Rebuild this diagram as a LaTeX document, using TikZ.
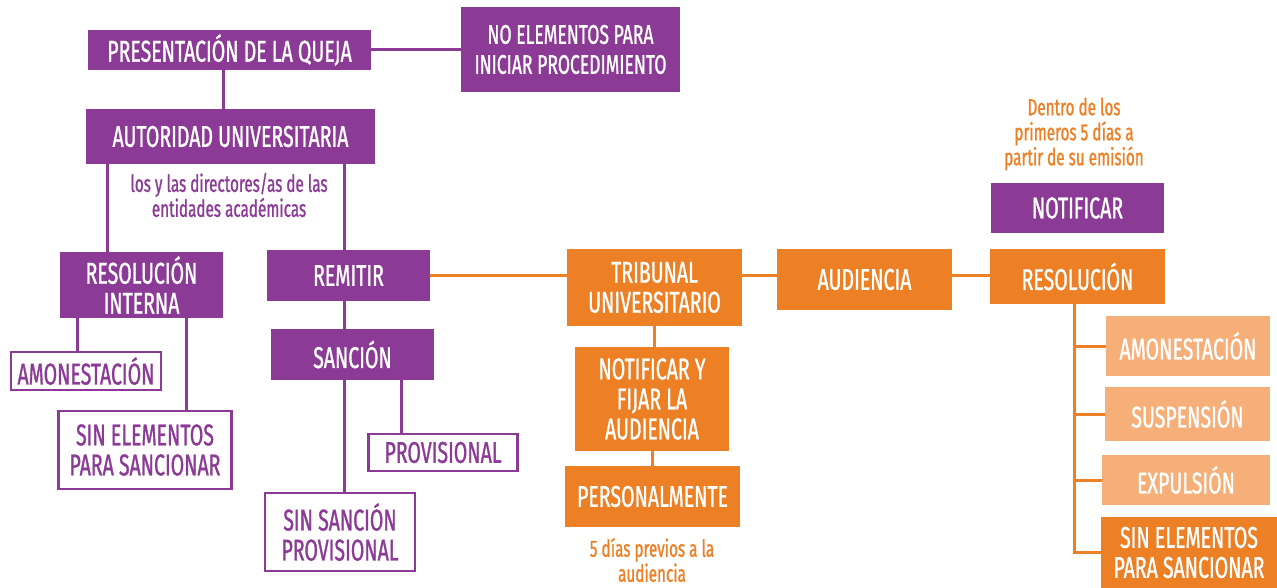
\documentclass[tikz,border=0pt]{standalone}
\usepackage{fontspec}
\setmainfont[FakeStretch=0.65, FakeBold=1]{Fira Sans}
\definecolor{morado}{RGB}{139,59,150}
\definecolor{naranja}{RGB}{237,128,37}
\definecolor{durazno}{RGB}{246,175,120}

\begin{document}
\begin{tikzpicture}[x=1pt,y=-1pt,
  caja/.style={inner sep=0pt, align=center, font=\fontsize{30}{30}\selectfont},
  lila/.style={caja, fill=morado, text=white},
  lilaborde/.style={caja, draw=morado, line width=2.5pt, fill=white, text=morado},
  nar/.style={caja, fill=naranja, text=white},
  narclaro/.style={caja, fill=durazno, text=white},
  nota/.style={align=center, inner sep=0pt, font=\fontsize{23.5}{25}\selectfont},
  lineal/.style={draw=morado, line width=3pt},
  linean/.style={draw=naranja, line width=3pt}]

\useasboundingbox (0,0) rectangle (1277,588);

\node[lila, minimum width=283, minimum height=40] (queja) at (229.5,50) {PRESENTACIÓN DE LA QUEJA}; % queja
\node[lila, minimum width=219, minimum height=85, font=\fontsize{27}{30}\selectfont] (noelem) at (570.5,49.5) {NO ELEMENTOS PARA\\INICIAR PROCEDIMIENTO}; % noelem
\node[lila, minimum width=289, minimum height=55] (aut) at (230.5,136.5) {AUTORIDAD UNIVERSITARIA}; % aut
\node[nota, text=morado] (directores) at (229,195) {los y las directores/as de las\\entidades académicas}; % directores
\node[lila, minimum width=163, minimum height=66] (resint) at (141.5,285) {RESOLUCIÓN\\INTERNA}; % resint
\node[lila, minimum width=163, minimum height=51] (remitir) at (348.5,275.5) {REMITIR}; % remitir
\node[lila, minimum width=163, minimum height=51] (sancion) at (352.5,354.5) {SANCIÓN}; % sancion
\node[lilaborde, minimum width=150, minimum height=38] (amon1) at (86,371) {AMONESTACIÓN}; % amon1
\node[lilaborde, minimum width=173, minimum height=78] (sinel1) at (145,450) {SIN ELEMENTOS\\PARA SANCIONAR}; % sinel1
\node[lilaborde, minimum width=149, minimum height=37] (prov) at (443,452.5) {PROVISIONAL}; % prov
\node[lilaborde, minimum width=150, minimum height=78] (sinsanc) at (340,532) {SIN SANCIÓN\\PROVISIONAL}; % sinsanc

\node[nar, minimum width=175, minimum height=77] (trib) at (654.5,287.5) {TRIBUNAL\\UNIVERSITARIO}; % trib
\node[nar, minimum width=175, minimum height=61] (aud) at (864.5,279.5) {AUDIENCIA}; % aud
\node[nar, minimum width=154, minimum height=104] (notfij) at (652,399) {NOTIFICAR Y\\FIJAR LA\\AUDIENCIA}; % notfij
\node[nar, minimum width=175, minimum height=61] (pers) at (652.5,496.5) {PERSONALMENTE}; % pers
\node[nota, text=naranja] (previos) at (652,560) {5 días previos a la\\audiencia}; % previos

\node[nota, text=naranja] (dentro) at (1074,134) {Dentro de los\\primeros 5 días a\\partir de su emisión}; % dentro
\node[lila, minimum width=173, minimum height=50] (notificar) at (1077.5,208) {NOTIFICAR}; % notificar
\node[nar, minimum width=175, minimum height=55] (res) at (1077.5,276.5) {RESOLUCIÓN}; % res
\node[narclaro, minimum width=164, minimum height=60] (amon2) at (1188,346) {AMONESTACIÓN}; % amon2
\node[narclaro, minimum width=165, minimum height=54] (susp) at (1187.5,414) {SUSPENSIÓN}; % susp
\node[narclaro, minimum width=168, minimum height=50] (expul) at (1186,480) {EXPULSIÓN}; % expul
\node[nar, minimum width=176, minimum height=71] (sinel2) at (1189,552.5) {SIN ELEMENTOS\\PARA SANCIONAR}; % sinel2

\draw[lineal] (queja.east) -- (noelem.west |- queja.east); % queja-noelem
\draw[lineal] (queja.south -| 223,0) -- (aut.north -| 223,0); % queja-aut
\draw[lineal] (aut.south -| 107,0) -- (resint.north -| 107,0); % aut-resint
\draw[lineal] (aut.south -| 344,0) -- (remitir.north -| 344,0); % aut-remitir
\draw[lineal] (resint.south -| 77,0) -- (amon1.north -| 77,0); % resint-amon1
\draw[lineal] (resint.south -| 186,0) -- (sinel1.north -| 186,0); % resint-sinel1
\draw[lineal] (remitir.south -| 344,0) -- (sancion.north -| 344,0); % remitir-sancion
\draw[lineal] (sancion.south -| 344,0) -- (sinsanc.north -| 344,0); % sancion-sinsanc
\draw[lineal] (sancion.south -| 401,0) -- (prov.north -| 401,0); % sancion-prov

\draw[linean] (remitir.east) -- (trib.west |- remitir.east); % remitir-trib
\draw[linean] (trib.east |- remitir.east) -- (aud.west |- remitir.east); % trib-aud
\draw[linean] (aud.east |- remitir.east) -- (res.west |- remitir.east); % aud-res
\draw[linean] (trib.south) -- (trib.south |- notfij.north); % trib-notfij
\draw[linean] (notfij.south) -- (notfij.south |- pers.north); % notfij-pers
\foreach \n in {amon2,susp,expul,sinel2}
  \draw[linean] (res.south -| 1074,0) |- (\n.west); % res-\n

\end{tikzpicture}
\end{document}
